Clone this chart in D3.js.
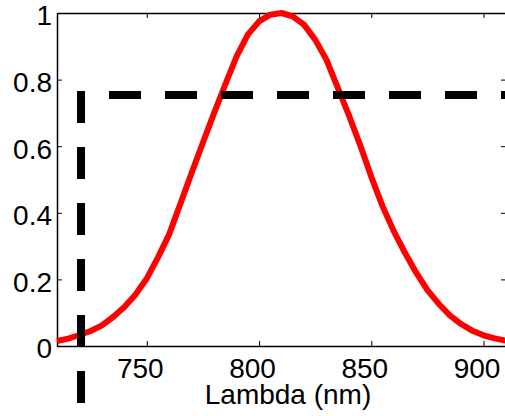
<!DOCTYPE html>
<html>
<head>
<meta charset="utf-8">
<script src="https://cdn.jsdelivr.net/npm/d3@7/dist/d3.min.js"></script>
<style>
body { margin: 0; background: #fff; }
svg { display: block; }
text { font-family: "Liberation Sans", Arial, sans-serif; }
</style>
</head>
<body>
<svg id="chart" width="505" height="416"></svg>
<script>
// spectrum, every 5 nm
var lambda = [710, 715, 720, 725, 730, 735, 740, 745, 750, 755,
              760, 765, 770, 775, 780, 785, 790, 795, 800, 805,
              810, 815, 820, 825, 830, 835, 840, 845, 850, 855,
              860, 865, 870, 875, 880, 885, 890, 895, 900, 905, 910];
var response = [0.015, 0.022, 0.033, 0.045, 0.062, 0.087, 0.117, 0.155, 0.203, 0.266,
                0.336, 0.428, 0.520, 0.611, 0.700, 0.786, 0.870, 0.935, 0.975, 0.995,
                1.000, 0.990, 0.965, 0.920, 0.860, 0.777, 0.693, 0.604, 0.508, 0.420,
                0.345, 0.280, 0.220, 0.168, 0.127, 0.092, 0.066, 0.046, 0.032, 0.023, 0.016];

// dashed guide: up from below the axis, then across at the threshold
var guideX = [720.7, 720.7, 910];
var guideY = [-0.25, 0.754, 0.754];

var xTicks = [750, 800, 850, 900];
var xTickLabels = ["750", "800", "850", "900"];
var yTicks = [0, 0.2, 0.4, 0.6, 0.8, 1];
var yTickLabels = ["0", "0.2", "0.4", "0.6", "0.8", "1"];
var xLabel = "Lambda (nm)";

var svg = d3.select("#chart");
// plot box in pixels ("top" is taken by window.top)
var boxLeft = 57, boxRight = 506, boxTop = 13, boxBottom = 346;

var x = d3.scaleLinear().domain([710, 910]).range([boxLeft, boxRight]);
var y = d3.scaleLinear().domain([0, 1]).range([boxBottom, boxTop]);

function style_axis(g) {
    g.select(".domain").attr("stroke", "#000").attr("stroke-width", 1.5);
    g.selectAll(".tick line").attr("stroke", "#000").attr("stroke-width", 1);
    g.selectAll(".tick text").attr("fill", "#000").style("font-size", "28px")
        .style("font-family", "'Liberation Sans', Arial, sans-serif");
}

var xAxis = svg.append("g")
    .attr("transform", "translate(0," + boxBottom + ")")
    .call(d3.axisBottom(x).tickValues(xTicks)
        .tickFormat(function(d, i) { return xTickLabels[i]; })
        .tickSizeInner(-5).tickSizeOuter(0).tickPadding(12))
    .call(style_axis);
// labels sit a little left of their ticks in the original
xAxis.selectAll(".tick text").attr("dx", -7);

svg.append("g")
    .attr("transform", "translate(0," + boxTop + ")")
    .call(d3.axisTop(x).tickValues(xTicks).tickFormat("")
        .tickSizeInner(-5).tickSizeOuter(0))
    .call(style_axis);

var yAxis = svg.append("g")
    .attr("transform", "translate(" + boxLeft + ",0)")
    .call(d3.axisLeft(y).tickValues(yTicks)
        .tickFormat(function(d, i) { return yTickLabels[i]; })
        .tickSizeInner(-5).tickSizeOuter(0).tickPadding(5))
    .call(style_axis);
yAxis.selectAll(".tick text").attr("y", 3);

svg.append("g")
    .attr("transform", "translate(" + boxRight + ",0)")
    .call(d3.axisRight(y).tickValues(yTicks).tickFormat("")
        .tickSizeInner(-5).tickSizeOuter(0))
    .call(style_axis);

// red curve
var line = d3.line()
    .x(function(d, i) { return x(lambda[i]); })
    .y(function(d) { return y(d); });

svg.append("path")
    .datum(response)
    .attr("fill", "none")
    .attr("stroke", "#ff0000")
    .attr("stroke-width", 6)
    .attr("stroke-linejoin", "round")
    .attr("d", line);

// dashed guide, dash pattern lined up so one dash wraps the corner
var guidePts = guideX.map(function(v, i) { return [x(v), y(guideY[i])]; });
var vLen = Math.abs(guidePts[1][1] - guidePts[0][1]);
var offset = ((28 - vLen) % 56 + 56) % 56;

svg.append("path")
    .attr("fill", "none")
    .attr("stroke", "#000")
    .attr("stroke-width", 8)
    .attr("stroke-dasharray", "32,24")
    .attr("stroke-dashoffset", offset)
    .attr("stroke-linejoin", "miter")
    .attr("d", d3.line()(guidePts));

svg.append("text")
    .attr("x", 288)
    .attr("y", 404)
    .attr("text-anchor", "middle")
    .style("font-size", "28px")
    .attr("fill", "#000")
    .text(xLabel);
</script>
</body>
</html>
